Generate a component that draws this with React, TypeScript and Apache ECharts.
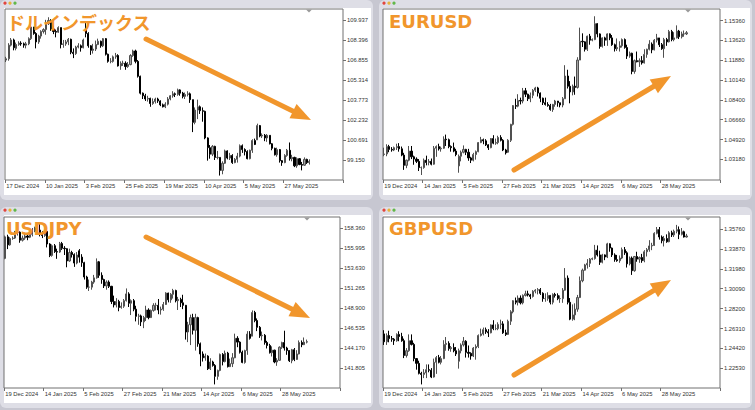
import React, { useEffect, useRef } from "react";
import * as echarts from "echarts";

// ---------- tick labels ----------
const DXY_DATES = ["17 Dec 2024", "10 Jan 2025", "3 Feb 2025", "25 Feb 2025", "19 Mar 2025", "10 Apr 2025", "5 May 2025", "27 May 2025"];
const FX_DATES = ["19 Dec 2024", "14 Jan 2025", "5 Feb 2025", "27 Feb 2025", "21 Mar 2025", "14 Apr 2025", "6 May 2025", "28 May 2025"];
const DXY_TICKS = [99.15, 100.691, 102.232, 103.773, 105.314, 106.855, 108.396, 109.937];
const EUR_TICKS = [1.0318, 1.0492, 1.0666, 1.084, 1.1014, 1.1188, 1.1362, 1.1536];
const JPY_TICKS = [141.805, 144.17, 146.535, 148.9, 151.265, 153.63, 155.995, 158.36];
const GBP_TICKS = [1.2253, 1.2442, 1.2631, 1.282, 1.3009, 1.3198, 1.3387, 1.3576];

// ---------- daily bars: [open, close, low, high] ----------
const DXY = [
  [106.85, 106.95, 106.7, 107.1], [106.95, 108.0, 106.8, 108.15], [108.0, 108.4, 107.9, 108.55], [108.4, 107.8, 107.6, 108.5],
  [107.75, 108.05, 107.6, 108.2], [108.05, 108.15, 107.95, 108.3], [108.15, 108.1, 107.95, 108.3], [108.1, 108.0, 107.8, 108.2],
  [108.0, 108.1, 107.75, 108.25], [108.1, 108.5, 108.0, 108.6], [108.5, 109.4, 108.4, 109.55], [109.4, 108.9, 108.8, 109.4],
  [108.9, 108.25, 107.75, 109.0], [108.25, 108.7, 108.1, 108.8], [108.7, 109.05, 108.5, 109.15], [109.05, 109.2, 108.9, 109.3],
  [109.2, 109.65, 108.8, 109.95], [109.65, 109.9, 109.55, 110.15], [109.9, 109.25, 109.1, 110.0], [109.25, 109.05, 108.85, 109.5],
  [109.05, 109.0, 108.6, 109.2], [109.0, 109.35, 108.95, 109.45], [109.35, 108.05, 107.75, 109.35], [108.05, 108.1, 107.8, 108.4],
  [108.1, 108.25, 107.95, 108.4], [108.25, 108.45, 108.0, 108.55], [108.45, 107.45, 107.3, 108.5], [107.45, 107.35, 107.0, 107.75],
  [107.35, 107.85, 107.25, 107.95], [107.85, 107.95, 107.75, 108.15], [107.95, 107.8, 107.5, 108.05], [107.8, 108.4, 107.75, 108.5],
  [109.3, 108.9, 108.6, 109.75], [108.9, 107.95, 107.8, 109.0], [107.95, 107.6, 107.25, 108.0], [107.6, 107.7, 107.35, 108.1],
  [107.7, 108.05, 107.55, 108.35], [108.05, 108.3, 108.0, 108.5], [108.3, 107.95, 107.8, 108.35], [107.95, 108.5, 107.85, 108.55],
  [108.5, 107.3, 107.2, 108.55], [107.3, 106.75, 106.65, 107.35], [106.75, 106.75, 106.6, 107.0], [106.75, 107.1, 106.65, 107.2],
  [107.1, 107.2, 106.95, 107.4], [107.2, 106.4, 106.35, 107.3], [106.4, 106.6, 106.1, 106.75], [106.6, 106.6, 106.4, 106.8],
  [106.6, 106.35, 106.1, 106.75], [106.35, 106.5, 106.25, 106.7], [106.5, 107.2, 106.45, 107.3], [107.2, 107.55, 107.1, 107.65],
  [107.55, 106.75, 106.6, 107.65], [106.75, 105.6, 105.5, 106.85], [105.6, 104.3, 104.2, 105.65], [104.3, 104.1, 103.85, 104.35],
  [104.1, 103.85, 103.7, 104.25], [103.85, 103.9, 103.65, 104.1], [103.9, 103.5, 103.25, 103.95], [103.5, 103.65, 103.4, 103.9],
  [103.65, 103.85, 103.5, 103.95], [103.85, 103.7, 103.55, 103.95], [103.7, 103.4, 103.3, 103.75], [103.4, 103.25, 103.2, 103.5],
  [103.25, 103.45, 103.15, 103.6], [103.45, 103.85, 103.35, 104.0], [103.85, 104.1, 103.75, 104.15], [104.1, 104.25, 103.95, 104.45],
  [104.25, 104.2, 104.0, 104.35], [104.2, 104.55, 104.1, 104.65], [104.55, 104.3, 104.1, 104.6], [104.3, 104.05, 103.9, 104.4],
  [104.05, 104.2, 103.85, 104.35], [104.2, 104.25, 104.05, 104.45], [104.25, 103.8, 103.55, 104.35], [103.8, 102.05, 101.3, 103.8],
  [102.05, 103.0, 101.9, 103.2], [103.0, 103.25, 102.3, 103.8], [103.25, 102.95, 102.7, 103.35], [102.95, 102.9, 102.1, 103.2],
  [102.9, 100.85, 100.75, 102.95], [100.85, 100.1, 99.1, 100.9], [100.1, 99.6, 99.25, 100.3], [99.6, 100.2, 99.45, 100.3],
  [100.2, 99.35, 99.15, 100.25], [99.35, 99.35, 99.2, 99.85], [99.35, 98.35, 97.95, 99.35], [98.35, 98.9, 98.05, 99.05],
  [98.9, 99.85, 98.85, 99.95], [99.85, 99.3, 99.2, 99.9], [99.3, 99.5, 99.15, 99.7], [99.5, 98.95, 98.85, 99.6],
  [98.95, 99.2, 98.9, 99.3], [99.2, 99.45, 98.95, 99.7], [99.45, 100.25, 99.35, 100.35], [100.25, 99.95, 99.7, 100.35],
  [99.95, 99.8, 99.5, 100.05], [99.8, 99.25, 99.2, 99.9], [99.25, 99.9, 99.2, 99.95], [99.9, 100.65, 99.7, 100.75],
  [100.65, 100.35, 100.3, 100.8], [100.7, 101.8, 100.7, 101.95], [101.8, 101.0, 100.9, 101.85], [101.0, 101.05, 100.85, 101.2],
  [101.05, 100.85, 100.6, 101.15], [100.85, 101.05, 100.55, 101.15], [101.05, 100.4, 100.35, 101.05], [100.4, 100.05, 99.9, 100.45],
  [100.05, 99.55, 99.5, 100.1], [99.55, 99.95, 99.4, 100.1], [99.95, 99.1, 98.95, 100.0], [99.1, 98.95, 98.7, 99.15],
  [98.95, 99.5, 98.9, 99.6], [99.5, 99.9, 99.4, 100.0], [99.9, 99.25, 99.1, 100.5], [99.25, 99.35, 99.05, 99.55],
  [99.35, 98.7, 98.6, 99.4], [98.7, 99.25, 98.55, 99.35], [99.25, 98.8, 98.75, 99.3], [98.8, 98.75, 98.35, 99.0],
  [98.75, 99.2, 98.7, 99.35], [99.2, 98.95, 98.85, 99.25], [98.95, 99.05, 98.8, 99.2],
];

const EURUSD = [
  [1.036, 1.0365, 1.0345, 1.042], [1.0365, 1.043, 1.0345, 1.045], [1.043, 1.0405, 1.038, 1.0445], [1.0405, 1.04, 1.0385, 1.0425],
  [1.04, 1.042, 1.039, 1.043], [1.042, 1.043, 1.04, 1.0455], [1.043, 1.041, 1.0385, 1.046], [1.041, 1.0355, 1.0345, 1.043],
  [1.0355, 1.0265, 1.0225, 1.0375], [1.0265, 1.031, 1.024, 1.0315], [1.031, 1.039, 1.03, 1.0435], [1.039, 1.034, 1.032, 1.0435],
  [1.034, 1.032, 1.027, 1.035], [1.032, 1.03, 1.0285, 1.0335], [1.03, 1.0245, 1.0215, 1.032], [1.0245, 1.0245, 1.018, 1.0255],
  [1.0245, 1.031, 1.0235, 1.0325], [1.031, 1.029, 1.0265, 1.035], [1.029, 1.03, 1.0265, 1.032], [1.03, 1.0275, 1.0265, 1.0325],
  [1.0275, 1.0415, 1.027, 1.0435], [1.0415, 1.043, 1.034, 1.044], [1.043, 1.041, 1.0395, 1.0455], [1.041, 1.0415, 1.0385, 1.043],
  [1.0415, 1.0495, 1.041, 1.052], [1.0495, 1.049, 1.0435, 1.0535], [1.049, 1.043, 1.0415, 1.05], [1.043, 1.042, 1.0385, 1.044],
  [1.042, 1.039, 1.038, 1.0465], [1.039, 1.036, 1.0345, 1.041], [1.026, 1.0345, 1.02, 1.036], [1.0345, 1.038, 1.03, 1.0395],
  [1.038, 1.0405, 1.037, 1.044], [1.0405, 1.038, 1.0355, 1.041], [1.038, 1.033, 1.0305, 1.041], [1.033, 1.031, 1.0285, 1.034],
  [1.031, 1.036, 1.03, 1.0375], [1.036, 1.0385, 1.0315, 1.0395], [1.0385, 1.0465, 1.038, 1.047], [1.0465, 1.049, 1.046, 1.0515],
  [1.049, 1.048, 1.045, 1.05], [1.048, 1.0445, 1.0435, 1.0495], [1.0445, 1.042, 1.04, 1.045], [1.042, 1.05, 1.0415, 1.0505],
  [1.05, 1.046, 1.045, 1.053], [1.046, 1.0465, 1.0445, 1.05], [1.0465, 1.051, 1.045, 1.0525], [1.051, 1.0485, 1.0475, 1.053],
  [1.0485, 1.04, 1.039, 1.0495], [1.04, 1.0375, 1.036, 1.041], [1.038, 1.0485, 1.0375, 1.0495], [1.0485, 1.0625, 1.047, 1.063],
  [1.0625, 1.079, 1.0615, 1.0795], [1.079, 1.0785, 1.076, 1.085], [1.0785, 1.0835, 1.0775, 1.089], [1.0835, 1.083, 1.08, 1.086],
  [1.083, 1.092, 1.081, 1.0945], [1.092, 1.089, 1.0865, 1.0945], [1.089, 1.085, 1.083, 1.0895], [1.085, 1.088, 1.082, 1.0905],
  [1.088, 1.0925, 1.0855, 1.0935], [1.0925, 1.0945, 1.091, 1.0955], [1.0945, 1.09, 1.087, 1.0955], [1.09, 1.0855, 1.082, 1.0905],
  [1.0855, 1.0815, 1.0795, 1.086], [1.0815, 1.08, 1.079, 1.086], [1.08, 1.079, 1.078, 1.082], [1.079, 1.0755, 1.0745, 1.0805],
  [1.0755, 1.08, 1.0735, 1.0805], [1.08, 1.083, 1.078, 1.084], [1.083, 1.0815, 1.078, 1.083], [1.0815, 1.0795, 1.0775, 1.0815],
  [1.0795, 1.085, 1.0775, 1.0865], [1.085, 1.105, 1.085, 1.1145], [1.105, 1.096, 1.094, 1.1105], [1.096, 1.091, 1.081, 1.1005],
  [1.091, 1.096, 1.088, 1.0975], [1.096, 1.095, 1.0885, 1.1045], [1.095, 1.119, 1.094, 1.1215], [1.119, 1.1355, 1.119, 1.1475],
  [1.1355, 1.135, 1.1305, 1.1425], [1.135, 1.1285, 1.1265, 1.1355], [1.1285, 1.14, 1.127, 1.1405], [1.14, 1.1365, 1.1325, 1.142],
  [1.1365, 1.137, 1.1355, 1.138], [1.137, 1.151, 1.1365, 1.1575], [1.151, 1.142, 1.139, 1.1515], [1.142, 1.131, 1.129, 1.1425],
  [1.131, 1.1385, 1.13, 1.139], [1.1385, 1.1365, 1.1315, 1.1395], [1.1365, 1.142, 1.1315, 1.1425], [1.142, 1.1385, 1.1365, 1.1425],
  [1.1385, 1.1325, 1.1315, 1.141], [1.1325, 1.129, 1.1265, 1.1335], [1.129, 1.13, 1.127, 1.138], [1.13, 1.1315, 1.1265, 1.1355],
  [1.1315, 1.137, 1.13, 1.138], [1.137, 1.13, 1.129, 1.138], [1.13, 1.1225, 1.12, 1.1325], [1.1225, 1.125, 1.121, 1.1265],
  [1.125, 1.109, 1.1065, 1.1255], [1.109, 1.1185, 1.107, 1.1195], [1.1185, 1.1175, 1.117, 1.1265], [1.1175, 1.1185, 1.113, 1.1205],
  [1.1185, 1.1165, 1.115, 1.1225], [1.1165, 1.124, 1.116, 1.1285], [1.124, 1.1285, 1.121, 1.129], [1.1285, 1.133, 1.1275, 1.1365],
  [1.133, 1.128, 1.125, 1.1345], [1.128, 1.1365, 1.1275, 1.1375], [1.1365, 1.1385, 1.1345, 1.142], [1.1385, 1.1325, 1.1305, 1.1385],
  [1.1325, 1.129, 1.128, 1.134], [1.129, 1.137, 1.121, 1.1385], [1.137, 1.135, 1.1315, 1.1385], [1.135, 1.144, 1.1345, 1.1455],
  [1.144, 1.137, 1.1355, 1.1455], [1.137, 1.1385, 1.1355, 1.1435], [1.1385, 1.1445, 1.138, 1.1495], [1.1445, 1.1395, 1.1375, 1.1455],
  [1.1395, 1.142, 1.138, 1.144], [1.142, 1.142, 1.1395, 1.145], [1.142, 1.143, 1.141, 1.1445],
];

const USDJPY = [
  [154.8, 157.35, 154.7, 157.5], [157.35, 156.4, 155.9, 157.6], [156.4, 157.15, 156.3, 157.3], [157.15, 157.2, 157.0, 157.4],
  [157.2, 157.85, 157.1, 158.05], [157.85, 157.9, 157.5, 158.1], [157.9, 156.95, 156.65, 158.0], [156.95, 157.2, 156.8, 157.5],
  [157.2, 157.45, 157.0, 157.85], [157.45, 157.3, 156.95, 157.7], [157.3, 157.65, 157.2, 158.0], [157.65, 158.05, 157.4, 158.4],
  [158.05, 158.4, 157.9, 158.55], [158.4, 158.15, 157.85, 158.5], [158.15, 157.75, 157.4, 158.85], [157.75, 157.5, 157.2, 158.0],
  [157.5, 158.0, 157.35, 158.15], [158.0, 156.5, 156.1, 158.1], [156.5, 155.15, 154.95, 156.6], [155.15, 156.3, 155.0, 156.45],
  [156.3, 155.6, 155.45, 156.5], [155.6, 155.55, 154.75, 155.95], [155.55, 156.55, 155.45, 156.75], [156.55, 156.0, 155.8, 156.75],
  [156.0, 155.95, 155.2, 156.25], [155.95, 154.5, 153.75, 156.0], [154.5, 155.5, 154.4, 155.95], [155.5, 155.25, 154.9, 155.7],
  [155.25, 154.25, 153.8, 155.4], [154.25, 155.2, 154.1, 155.55], [155.7, 154.95, 154.3, 155.9], [154.95, 154.3, 153.8, 155.3],
  [154.3, 152.6, 152.3, 154.4], [152.6, 151.4, 151.2, 152.75], [151.4, 151.4, 150.95, 152.3], [151.4, 152.0, 151.1, 152.15],
  [152.0, 152.5, 151.8, 152.85], [152.5, 154.4, 152.4, 154.8], [154.4, 152.8, 152.5, 154.5], [152.8, 152.3, 151.8, 153.15],
  [152.3, 151.55, 151.3, 152.4], [151.55, 152.0, 151.1, 152.2], [152.0, 151.5, 151.3, 152.2], [151.5, 149.7, 149.4, 151.55],
  [149.7, 149.3, 149.0, 150.4], [149.3, 149.7, 149.0, 150.1], [149.7, 149.0, 148.55, 149.9], [149.0, 149.15, 148.85, 149.6],
  [149.15, 149.8, 148.95, 150.0], [149.8, 150.6, 149.7, 151.25], [150.6, 149.5, 149.05, 150.8], [149.5, 149.8, 148.1, 149.95],
  [149.8, 148.8, 148.55, 150.0], [148.8, 147.95, 147.35, 149.2], [147.95, 148.0, 146.95, 148.25], [148.0, 147.3, 146.8, 148.15],
  [147.3, 147.8, 146.55, 148.0], [147.8, 148.7, 147.4, 149.2], [148.7, 147.8, 147.6, 148.9], [147.8, 148.65, 147.75, 148.75],
  [148.65, 149.25, 148.5, 149.5], [149.25, 149.25, 148.65, 149.55], [149.25, 148.7, 148.2, 150.0], [148.7, 148.8, 148.15, 149.1],
  [148.8, 149.35, 148.6, 149.65], [149.35, 150.7, 149.3, 150.8], [150.7, 149.9, 149.6, 150.75], [149.9, 150.55, 149.55, 150.7],
  [150.55, 151.0, 150.05, 151.2], [151.0, 149.8, 149.6, 151.1], [149.8, 149.95, 148.7, 150.25], [149.95, 149.55, 149.05, 150.15],
  [149.55, 149.25, 148.8, 150.5], [149.25, 146.1, 145.2, 149.3], [146.1, 146.95, 144.9, 147.3], [146.95, 147.8, 144.55, 148.15],
  [147.8, 146.3, 145.8, 148.25], [146.3, 147.8, 143.9, 148.25], [147.8, 144.7, 144.35, 147.9], [144.7, 143.5, 142.05, 144.85],
  [143.5, 143.05, 142.6, 143.8], [143.05, 143.25, 142.7, 143.55], [143.25, 141.75, 141.6, 143.35], [141.75, 142.55, 141.6, 143.0],
  [142.55, 142.15, 142.0, 142.7], [142.15, 140.85, 139.9, 142.3], [140.85, 141.55, 140.45, 141.65], [141.55, 143.45, 141.45, 143.55],
  [143.45, 142.6, 142.15, 143.6], [142.6, 143.6, 142.5, 143.9], [143.6, 142.0, 141.9, 143.75], [142.0, 142.35, 141.95, 142.95],
  [142.35, 143.05, 141.95, 143.6], [143.05, 145.35, 143.0, 145.9], [145.35, 144.9, 144.3, 145.6], [144.9, 143.7, 143.55, 145.0],
  [143.7, 142.5, 142.4, 143.9], [142.5, 143.9, 142.35, 144.0], [143.9, 145.85, 143.4, 146.2], [145.85, 145.35, 145.2, 146.2],
  [145.6, 148.4, 145.6, 148.65], [148.4, 147.45, 147.25, 148.6], [147.45, 146.65, 146.2, 147.7], [146.65, 145.65, 145.4, 146.8],
  [145.65, 145.7, 145.1, 146.15], [145.7, 144.85, 144.6, 145.85], [144.85, 144.5, 144.15, 145.05], [144.5, 143.65, 143.55, 144.7],
  [143.65, 143.95, 143.2, 144.4], [143.95, 142.55, 142.4, 144.0], [142.55, 142.75, 142.1, 143.0], [142.75, 144.3, 142.7, 144.4],
  [144.3, 144.85, 144.1, 144.95], [144.85, 144.2, 143.9, 146.25], [144.2, 143.9, 143.4, 144.35], [143.9, 142.7, 142.55, 143.95],
  [142.7, 144.0, 142.4, 144.1], [144.0, 142.85, 142.65, 144.2], [142.85, 143.5, 142.8, 143.95], [143.5, 144.85, 143.45, 145.1],
  [144.85, 144.6, 144.3, 145.1], [144.6, 144.9, 144.55, 145.45], [144.9, 144.95, 144.75, 145.2],
];

const GBPUSD = [
  [1.258, 1.2505, 1.2475, 1.2615], [1.2505, 1.2565, 1.2475, 1.2585], [1.2565, 1.2535, 1.25, 1.261], [1.2535, 1.253, 1.2505, 1.256],
  [1.253, 1.2515, 1.2475, 1.254], [1.2515, 1.2575, 1.2505, 1.2585], [1.2575, 1.2555, 1.251, 1.2605], [1.2555, 1.2515, 1.2505, 1.259],
  [1.2515, 1.2375, 1.235, 1.2535], [1.2375, 1.242, 1.2355, 1.2445], [1.242, 1.2515, 1.241, 1.2575], [1.2515, 1.248, 1.247, 1.2575],
  [1.248, 1.2345, 1.232, 1.2495], [1.2345, 1.23, 1.224, 1.235], [1.23, 1.2205, 1.2195, 1.2325], [1.2205, 1.2195, 1.21, 1.222],
  [1.2195, 1.221, 1.216, 1.2245], [1.221, 1.224, 1.216, 1.229], [1.224, 1.2235, 1.2215, 1.229], [1.2235, 1.217, 1.216, 1.2255],
  [1.217, 1.231, 1.2165, 1.2345], [1.231, 1.2355, 1.22, 1.237], [1.2355, 1.231, 1.23, 1.238], [1.231, 1.2345, 1.229, 1.237],
  [1.2345, 1.248, 1.234, 1.252], [1.248, 1.249, 1.242, 1.255], [1.249, 1.244, 1.242, 1.251], [1.244, 1.245, 1.241, 1.2465],
  [1.245, 1.242, 1.2405, 1.249], [1.242, 1.239, 1.237, 1.2455], [1.232, 1.242, 1.225, 1.244], [1.242, 1.2475, 1.2395, 1.249],
  [1.2475, 1.251, 1.246, 1.255], [1.251, 1.2405, 1.2355, 1.252], [1.2405, 1.2395, 1.2355, 1.247], [1.2395, 1.237, 1.2335, 1.2405],
  [1.237, 1.2445, 1.236, 1.2455], [1.2445, 1.246, 1.2335, 1.248], [1.246, 1.2565, 1.2445, 1.2575], [1.2565, 1.258, 1.2555, 1.263],
  [1.258, 1.262, 1.2565, 1.264], [1.262, 1.26, 1.258, 1.264], [1.26, 1.259, 1.255, 1.2625], [1.259, 1.2665, 1.2585, 1.267],
  [1.2665, 1.263, 1.2615, 1.271], [1.263, 1.263, 1.2615, 1.267], [1.263, 1.267, 1.2615, 1.269], [1.267, 1.2675, 1.2625, 1.2715],
  [1.2675, 1.259, 1.258, 1.27], [1.259, 1.2575, 1.256, 1.262], [1.2575, 1.27, 1.257, 1.2715], [1.27, 1.279, 1.2665, 1.2805],
  [1.279, 1.2895, 1.2775, 1.29], [1.2895, 1.288, 1.286, 1.2925], [1.288, 1.292, 1.285, 1.2945], [1.292, 1.2875, 1.286, 1.2945],
  [1.2875, 1.2945, 1.286, 1.2955], [1.2945, 1.296, 1.2935, 1.299], [1.296, 1.295, 1.2935, 1.299], [1.295, 1.2935, 1.291, 1.296],
  [1.2935, 1.2985, 1.2925, 1.2995], [1.2985, 1.2995, 1.2965, 1.3005], [1.2995, 1.3, 1.2955, 1.3015], [1.3, 1.2965, 1.295, 1.3015],
  [1.2965, 1.2915, 1.2885, 1.2975], [1.2915, 1.2915, 1.2885, 1.2965], [1.2915, 1.2945, 1.2895, 1.2975], [1.2945, 1.288, 1.286, 1.295],
  [1.288, 1.2955, 1.286, 1.2965], [1.2955, 1.2945, 1.2925, 1.297], [1.2945, 1.2915, 1.29, 1.2965], [1.2915, 1.2915, 1.2875, 1.2945],
  [1.2915, 1.2995, 1.2875, 1.3015], [1.2995, 1.311, 1.299, 1.3205], [1.311, 1.288, 1.286, 1.3135], [1.288, 1.272, 1.271, 1.292],
  [1.272, 1.276, 1.2705, 1.286], [1.276, 1.2815, 1.271, 1.287], [1.2815, 1.2925, 1.279, 1.295], [1.2925, 1.3085, 1.292, 1.3125],
  [1.3085, 1.3185, 1.307, 1.32], [1.3185, 1.3235, 1.318, 1.3245], [1.3235, 1.325, 1.32, 1.329], [1.325, 1.329, 1.3215, 1.33],
  [1.329, 1.3295, 1.328, 1.3305], [1.3295, 1.3375, 1.3285, 1.3425], [1.3375, 1.333, 1.3315, 1.342], [1.333, 1.326, 1.3235, 1.337],
  [1.326, 1.333, 1.325, 1.334], [1.333, 1.331, 1.328, 1.3335], [1.331, 1.3435, 1.33, 1.3445], [1.3435, 1.3395, 1.336, 1.344],
  [1.3395, 1.333, 1.331, 1.34], [1.333, 1.3285, 1.3265, 1.3345], [1.3285, 1.3275, 1.3265, 1.333], [1.3275, 1.33, 1.3255, 1.3325],
  [1.33, 1.338, 1.329, 1.34], [1.338, 1.335, 1.333, 1.3405], [1.335, 1.3245, 1.321, 1.3365], [1.3245, 1.33, 1.323, 1.3315],
  [1.33, 1.318, 1.314, 1.3315], [1.318, 1.3315, 1.317, 1.332], [1.3315, 1.329, 1.3265, 1.336], [1.329, 1.3305, 1.3255, 1.3315],
  [1.3305, 1.3275, 1.3255, 1.334], [1.3275, 1.336, 1.326, 1.3375], [1.336, 1.338, 1.3315, 1.3395], [1.338, 1.3415, 1.336, 1.347],
  [1.3415, 1.342, 1.3375, 1.3445], [1.342, 1.3535, 1.3415, 1.3545], [1.3535, 1.357, 1.3525, 1.3595], [1.357, 1.35, 1.3475, 1.3595],
  [1.35, 1.3465, 1.344, 1.3515], [1.3465, 1.3485, 1.341, 1.351], [1.3485, 1.3455, 1.3445, 1.3525], [1.3455, 1.354, 1.345, 1.3555],
  [1.354, 1.352, 1.35, 1.356], [1.352, 1.3555, 1.35, 1.357], [1.3555, 1.357, 1.3535, 1.3615], [1.357, 1.3525, 1.348, 1.36],
  [1.3525, 1.355, 1.3515, 1.3585], [1.355, 1.35, 1.3495, 1.356], [1.35, 1.351, 1.3495, 1.353],
];

const TITLES = ["ドルインデックス", "EURUSD", "USDJPY", "GBPUSD"];

const ORANGE = "#F1962C";
const SLOTS = 136; // category slots across each plot (bars + right-hand empty shift)

const PANELS = [
  { title: TITLES[0], data: DXY, ticks: DXY_TICKS, dates: DXY_DATES, dec: 3, min: 97.609, max: 110.785,
    grid: { left: 5, top: 9, width: 338, height: 171 }, titlePos: [7, 21.5], titleFont: 'bold 18px "Noto Sans CJK JP"',
    arrow: [146, 39, 311, 120], marker: 309, frame: { x: 0, y: 0, h: 200 } },
  { title: TITLES[1], data: EURUSD, ticks: EUR_TICKS, dates: FX_DATES, dec: 5, min: 1.01361, max: 1.16388,
    grid: { left: 383, top: 9, width: 337, height: 171 }, titlePos: [389, 21], titleFont: 'bold 18px "DejaVu Sans"',
    arrow: [514, 170, 671, 76], marker: 688, frame: { x: 379, y: 0, h: 200 } },
  { title: TITLES[2], data: USDJPY, ticks: JPY_TICKS, dates: FX_DATES, dec: 3, min: 139.475, max: 159.696,
    grid: { left: 4, top: 217, width: 336, height: 171 }, titlePos: [6, 228], titleFont: 'bold 18px "DejaVu Sans"',
    arrow: [146, 237, 310, 318], marker: 307, frame: { x: 0, y: 207, h: 201 } },
  { title: TITLES[3], data: GBPUSD, ticks: GBP_TICKS, dates: FX_DATES, dec: 5, min: 1.2066, max: 1.369,
    grid: { left: 383, top: 217, width: 337, height: 171 }, titlePos: [389, 228], titleFont: 'bold 18px "DejaVu Sans"',
    arrow: [514, 375, 671, 280], marker: 688, frame: { x: 379, y: 207, h: 201 } },
];

function arrowElements(x1: number, y1: number, tx: number, ty: number) {
  const dx = tx - x1, dy = ty - y1;
  const L = Math.hypot(dx, dy);
  const ux = dx / L, uy = dy / L;
  const hl = 20, hw = 8;
  const bx = tx - ux * hl, by = ty - uy * hl;
  return [
    { type: "line", z: 100, shape: { x1, y1, x2: bx + ux * 3, y2: by + uy * 3 }, style: { stroke: ORANGE, lineWidth: 5, lineCap: "round" } },
    { type: "polygon", z: 100, shape: { points: [[tx, ty], [bx - uy * hw, by + ux * hw], [bx + uy * hw, by - ux * hw]] }, style: { fill: ORANGE } },
  ];
}

const AXIS_GRAY = "#707070";
const LABEL_FONT = "Liberation Sans";

function buildOption() {
  const cats = Array.from({ length: SLOTS }, (_, i) => String(i));
  const showIdx = (i: number) => i % 16 === 0 && i <= 112;
  const graphic: any[] = [];
  PANELS.forEach((p) => {
    graphic.push({
      type: "text", z: 100, x: p.titlePos[0], y: p.titlePos[1],
      style: { text: p.title, fill: ORANGE, font: p.titleFont, verticalAlign: "middle", align: "left" },
    });
    graphic.push(...arrowElements(p.arrow[0], p.arrow[1], p.arrow[2], p.arrow[3]));
    const t = p.grid.top;
    graphic.push({ type: "polygon", z: 50, shape: { points: [[p.marker - 3, t + 0.5], [p.marker + 3, t + 0.5], [p.marker, t + 3.5]] }, style: { fill: "#9a9a9a" } });
    const dots = ["#e2463f", "#e7b43a", "#62b84a"];
    dots.forEach((c, k) => graphic.push({ type: "circle", z: 50, shape: { cx: p.frame.x + 5 + k * 5, cy: p.frame.y + 3.2, r: 1.6 }, style: { fill: c } }));
  });

  return {
    animation: false,
    grid: PANELS.map((p) => ({ ...p.grid, show: true, borderColor: AXIS_GRAY, borderWidth: 1, backgroundColor: "transparent" })),
    xAxis: PANELS.map((p, i) => ({
      type: "category", gridIndex: i, data: cats, boundaryGap: true,
      axisLine: { show: false },
      axisTick: { show: true, interval: (idx: number) => showIdx(idx), length: 3, lineStyle: { color: AXIS_GRAY } },
      axisLabel: {
        interval: (idx: number) => showIdx(idx),
        formatter: (_v: string, idx: number) => (showIdx(idx) ? p.dates[idx / 16] ?? "" : ""),
        fontSize: 5.8, fontFamily: LABEL_FONT, color: "#333", align: "left", margin: 3,
      },
      splitLine: { show: false },
    })),
    yAxis: PANELS.map((p, i) => ({
      type: "value", gridIndex: i, position: "right", min: p.min, max: p.max, scale: true,
      axisLine: { show: false },
      axisTick: { show: true, length: 3, customValues: p.ticks, lineStyle: { color: AXIS_GRAY } },
      axisLabel: {
        customValues: p.ticks, formatter: (v: number) => v.toFixed(p.dec),
        fontSize: 5.8, fontFamily: LABEL_FONT, color: "#333", margin: 4,
      },
      splitLine: { show: false },
    })),
    series: PANELS.map((p, i) => ({
      type: "candlestick", name: p.title, xAxisIndex: i, yAxisIndex: i, data: p.data,
      barWidth: 1.6,
      itemStyle: { color: "#a4a4a4", color0: "#000000", borderColor: "#505050", borderColor0: "#000000", borderWidth: 1 },
    })),
    graphic,
  };
}

export default function App() {
  const ref = useRef<HTMLDivElement>(null);
  useEffect(() => {
    if (!ref.current) return;
    const chart = echarts.init(ref.current, null, { renderer: "svg" });
    chart.setOption(buildOption() as any);
    return () => chart.dispose();
  }, []);
  return (
    <div style={{ position: "absolute", left: 0, top: 0, width: 755, height: 410, background: "#c7c7d1", overflow: "hidden" }}>
      {PANELS.map((p, i) => (
        <div key={i} style={{ position: "absolute", left: p.frame.x, top: p.frame.y, width: 373, height: p.frame.h, background: "#dedee6", borderRadius: 6 }}>
          <div style={{ position: "absolute", left: 4, top: 8, width: 367, height: p.frame.h - 13, background: "#ffffff" }} />
        </div>
      ))}
      <div ref={ref} style={{ position: "absolute", left: 0, top: 0, width: 755, height: 410 }} />
    </div>
  );
}
